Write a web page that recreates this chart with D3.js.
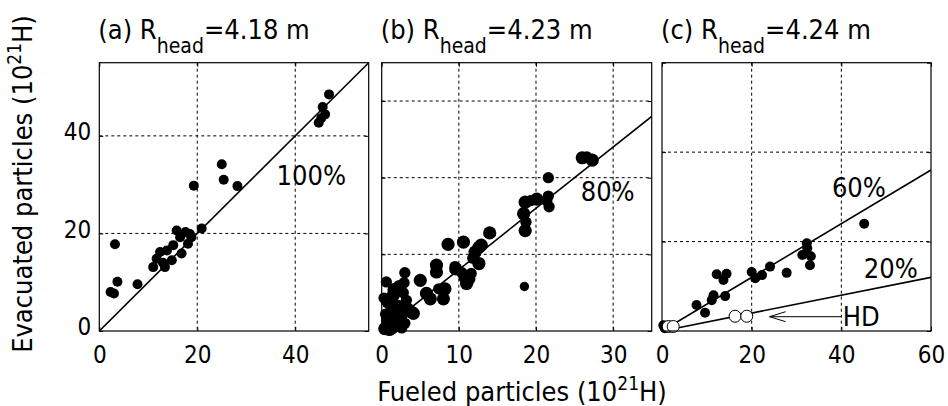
<!DOCTYPE html>
<meta charset="utf-8">
<script src="https://d3js.org/d3.v7.min.js"></script>
<style>
  body { margin: 0; background: #fff; }
  svg text { font-family: "DejaVu Sans Condensed", "DejaVu Sans", sans-serif; fill: #000; }
</style>
<div id="chart"></div>
<script>
// ---- data (units of 10^21 H) ----
// (a) R_head = 4.18 m
const aFueled = [46.9, 45.6, 46.1, 44.8, 45.3, 25.0, 25.4, 28.2, 19.3, 20.9,
                 3.2, 3.7, 2.3, 3.0, 7.8,
                 11.0, 11.7, 13.4, 12.4, 13.8, 14.8, 15.1, 15.8, 16.5, 16.8, 18.1, 18.5, 18.8, 17.6, 13.0];
const aEvac   = [48.5, 45.9, 44.4, 42.7, 43.6, 34.2, 31.0, 29.7, 29.8, 21.0,
                 17.8, 10.1, 8.0, 7.7, 9.6,
                 13.1, 14.8, 13.1, 16.2, 16.5, 14.5, 17.6, 20.6, 19.2, 15.9, 17.9, 19.9, 19.2, 20.3, 14.0];

// (b) R_head = 4.23 m
const bFueled = [26.0, 27.3, 26.6, 21.6, 21.6, 21.7, 21.4, 20.1, 19.3, 18.6,
                 18.4, 18.7, 18.6, 18.5, 14.0, 12.9, 12.1, 12.6, 11.8, 10.6,
                 8.6, 9.6, 10.8, 11.0, 11.3, 10.4, 11.6, 7.1, 7.1, 8.2,
                 7.4, 8.0, 6.3, 5.8, 5.0, 3.0, 4.1, 0.6, 2.3, 1.5,
                 0.8, 2.1, 3.8, 0.8, 1.9, 0.4, 2.5, 3.2, 1.2, 2.8,
                 0.5, 1.4, 2.6, 3.0, 9.5, 12.6, 1.0, 2.0, 3.4, 1.6,
                 0.3, 2.9];
const bEvac   = [22.6, 22.3, 22.7, 20.0, 17.6, 16.2, 17.0, 17.2, 17.0, 16.8,
                 15.3, 14.2, 13.1, 5.8, 12.8, 11.2, 10.3, 8.8, 9.5, 11.6,
                 11.3, 8.1, 7.0, 6.2, 6.8, 7.6, 7.5, 8.6, 7.7, 5.5,
                 5.5, 4.2, 4.2, 4.9, 6.6, 7.6, 2.3, 6.4, 5.8, 4.7,
                 3.8, 3.2, 2.5, 1.4, 0.8, 0.3, 2.1, 4.0, 2.6, 5.0,
                 2.2, 0.3, 0.4, 1.0, 8.4, 10.9, 0.2, 1.8, 3.0, 5.4,
                 4.3, 6.3];
const bLevel  = [3, 3, 2, 2, 2, 2, 2, 3, 2, 3,
                 3, 2, 3, 1, 3, 3, 3, 3, 2, 3,
                 3, 3, 3, 3, 3, 2, 2, 3, 3, 3,
                 2, 3, 3, 3, 3, 2, 3, 2, 3, 3,
                 3, 3, 3, 3, 3, 3, 3, 2, 2, 2,
                 2, 2, 2, 2, 2, 3, 3, 3, 2, 3,
                 2, 2];

// (c) R_head = 4.24 m
const cFueled = [45.1, 32.3, 32.4, 31.3, 33.2, 33.0, 27.8, 24.1, 20.0, 22.3,
                 20.8, 12.2, 14.4, 13.7, 11.5, 11.1, 14.1, 7.7, 9.6, 0.3,
                 0.8, 1.3, 0.6];
const cEvac   = [24.0, 19.6, 18.5, 17.0, 16.7, 14.7, 13.0, 14.4, 13.2, 12.5,
                 11.8, 12.7, 12.8, 11.4, 8.0, 6.9, 7.8, 5.8, 4.1, 1.3,
                 1.1, 1.0, 0.6];
const cHdFueled = [1.4, 2.5, 16.3, 18.9];
const cHdEvac   = [1.0, 1.0, 3.3, 3.3];

// fitted evacuation ratios
const ratioA = [1.0];
const ratioB = [0.8];
const ratioC = [0.6, 0.2];

const panelIds  = ["(a)", "(b)", "(c)"];
const rHead     = ["4.18", "4.23", "4.24"];
const xMax      = [55, 35, 60];
const yMax      = [55, 35, 60];
const xTicks    = [[0, 20, 40], [0, 10, 20, 30], [0, 20, 40, 60]];
const yTicks    = [[0, 20, 40], [0, 10, 20, 30], [0, 20, 40, 60]];

// ---- layout ----
const W = 948, H = 406;
const plotTop = 62.7, plotBottom = 331;
const panelX = [[99.3, 368.7], [381.7, 651.7], [662, 931]];

const svg = d3.select("#chart").append("svg")
    .attr("width", W).attr("height", H);
svg.append("rect").attr("width", W).attr("height", H).attr("fill", "#fff");

function zip(xs, ys, extra) {
  return xs.map((v, i) => ({x: v, y: ys[i], k: extra ? extra[i] : 0}));
}

const panels = [
  {pts: zip(aFueled, aEvac), ratios: ratioA,
   labels: [{t: "100%", x: 36.2, y: 30.0}]},
  {pts: zip(bFueled, bEvac, bLevel), ratios: ratioB,
   labels: [{t: "80%", x: 25.8, y: 16.9}]},
  {pts: zip(cFueled, cEvac), open: zip(cHdFueled, cHdEvac), ratios: ratioC,
   labels: [{t: "60%", x: 37.9, y: 30.0}, {t: "20%", x: 45.0, y: 11.8}, {t: "HD", x: 40.3, y: 1.1}]}
];

const rB = d3.scaleLinear().domain([1, 3]).range([4.7, 6.6]);

panels.forEach((p, i) => {
  const x = d3.scaleLinear().domain([0, xMax[i]]).range(panelX[i]);
  const y = d3.scaleLinear().domain([0, yMax[i]]).range([plotBottom, plotTop]);
  const g = svg.append("g");

  const clipId = "clip" + i;
  svg.append("clipPath").attr("id", clipId).append("rect")
      .attr("x", panelX[i][0]).attr("y", plotTop)
      .attr("width", panelX[i][1] - panelX[i][0]).attr("height", plotBottom - plotTop);

  // grid
  g.selectAll(".gx").data(xTicks[i].filter(v => v > 0 && v < xMax[i])).enter()
    .append("line")
      .attr("x1", d => x(d)).attr("x2", d => x(d))
      .attr("y1", plotTop).attr("y2", plotBottom)
      .attr("stroke", "#000").attr("stroke-width", 1).attr("stroke-dasharray", "3,3");
  g.selectAll(".gy").data(yTicks[i].filter(v => v > 0 && v < yMax[i])).enter()
    .append("line")
      .attr("y1", d => y(d)).attr("y2", d => y(d))
      .attr("x1", panelX[i][0]).attr("x2", panelX[i][1])
      .attr("stroke", "#000").attr("stroke-width", 1).attr("stroke-dasharray", "3,3");

  // ratio lines
  g.append("g").attr("clip-path", "url(#" + clipId + ")")
    .selectAll("line").data(p.ratios).enter()
    .append("line")
      .attr("x1", x(0)).attr("y1", y(0))
      .attr("x2", x(xMax[i])).attr("y2", d => y(d * xMax[i]))
      .attr("stroke", "#000").attr("stroke-width", 1.6);

  // HD arrow in (c)
  if (p.open) {
    const ax0 = x(40.0), ax1 = x(24.0), ay = y(3.2);
    g.append("path")
      .attr("d", `M${ax0},${ay}H${ax1}M${ax1 + 16},${ay - 5}L${ax1},${ay}L${ax1 + 16},${ay + 5}`)
      .attr("fill", "none").attr("stroke", "#000").attr("stroke-width", 1);
  }

  // points
  g.append("g").selectAll("circle").data(p.pts).enter()
    .append("circle")
      .attr("cx", d => x(d.x)).attr("cy", d => y(d.y))
      .attr("r", d => d.k ? rB(d.k) : 5)
      .attr("fill", "#000");
  if (p.open) {
    g.append("g").selectAll("circle").data(p.open).enter()
      .append("circle")
        .attr("cx", d => x(d.x)).attr("cy", d => y(d.y))
        .attr("r", 6)
        .attr("fill", "#fff").attr("stroke", "#000").attr("stroke-width", 1);
  }

  // frame
  g.append("rect")
    .attr("x", panelX[i][0]).attr("y", plotTop)
    .attr("width", panelX[i][1] - panelX[i][0]).attr("height", plotBottom - plotTop)
    .attr("fill", "none").attr("stroke", "#000").attr("stroke-width", 1.2);

  // axes (inward ticks)
  const xa = g.append("g").attr("transform", `translate(0,${plotBottom})`)
    .call(d3.axisBottom(x).tickValues(xTicks[i]).tickSize(-4).tickPadding(15).tickFormat(d3.format("d")));
  xa.select(".domain").remove();
  xa.selectAll("text").attr("font-size", 24);
  g.append("g").attr("transform", `translate(0,${plotTop})`)
    .call(d3.axisTop(x).tickValues(xTicks[i]).tickSize(-4).tickFormat(""))
    .select(".domain").remove();
  const ya = g.append("g").attr("transform", `translate(${panelX[i][0]},0)`)
    .call(d3.axisLeft(y).tickValues(yTicks[i]).tickSize(-4).tickPadding(8).tickFormat(i === 0 ? d3.format("d") : ""));
  ya.select(".domain").remove();
  ya.selectAll("text").attr("font-size", 24).attr("dy", "0.15em");
  g.append("g").attr("transform", `translate(${panelX[i][1]},0)`)
    .call(d3.axisRight(y).tickValues(yTicks[i]).tickSize(-4).tickFormat(""))
    .select(".domain").remove();

  // inline labels
  g.selectAll(".lab").data(p.labels).enter()
    .append("text")
      .attr("x", d => x(d.x)).attr("y", d => y(d.y))
      .attr("font-size", 27)
      .text(d => d.t);

  // panel title
  const t = svg.append("text")
    .attr("x", panelX[i][0] - 1).attr("y", 39)
    .attr("font-size", 27);
  t.append("tspan").text(panelIds[i] + " R");
  t.append("tspan").attr("font-size", 21).attr("dy", 14).text("head");
  t.append("tspan").attr("dy", -14).text("=" + rHead[i] + " m");
});

// axis titles
const xl = svg.append("text")
  .attr("x", 522).attr("y", 401)
  .attr("text-anchor", "middle").attr("font-size", 27);
xl.append("tspan").text("Fueled particles (10");
xl.append("tspan").attr("font-size", 19).attr("dy", -11).text("21");
xl.append("tspan").attr("dy", 11).text("H)");

const yl = svg.append("text")
  .attr("transform", "translate(32,184) rotate(-90)")
  .attr("text-anchor", "middle").attr("font-size", 27);
yl.append("tspan").text("Evacuated particles (10");
yl.append("tspan").attr("font-size", 19).attr("dy", -11).text("21");
yl.append("tspan").attr("dy", 11).text("H)");
</script>
